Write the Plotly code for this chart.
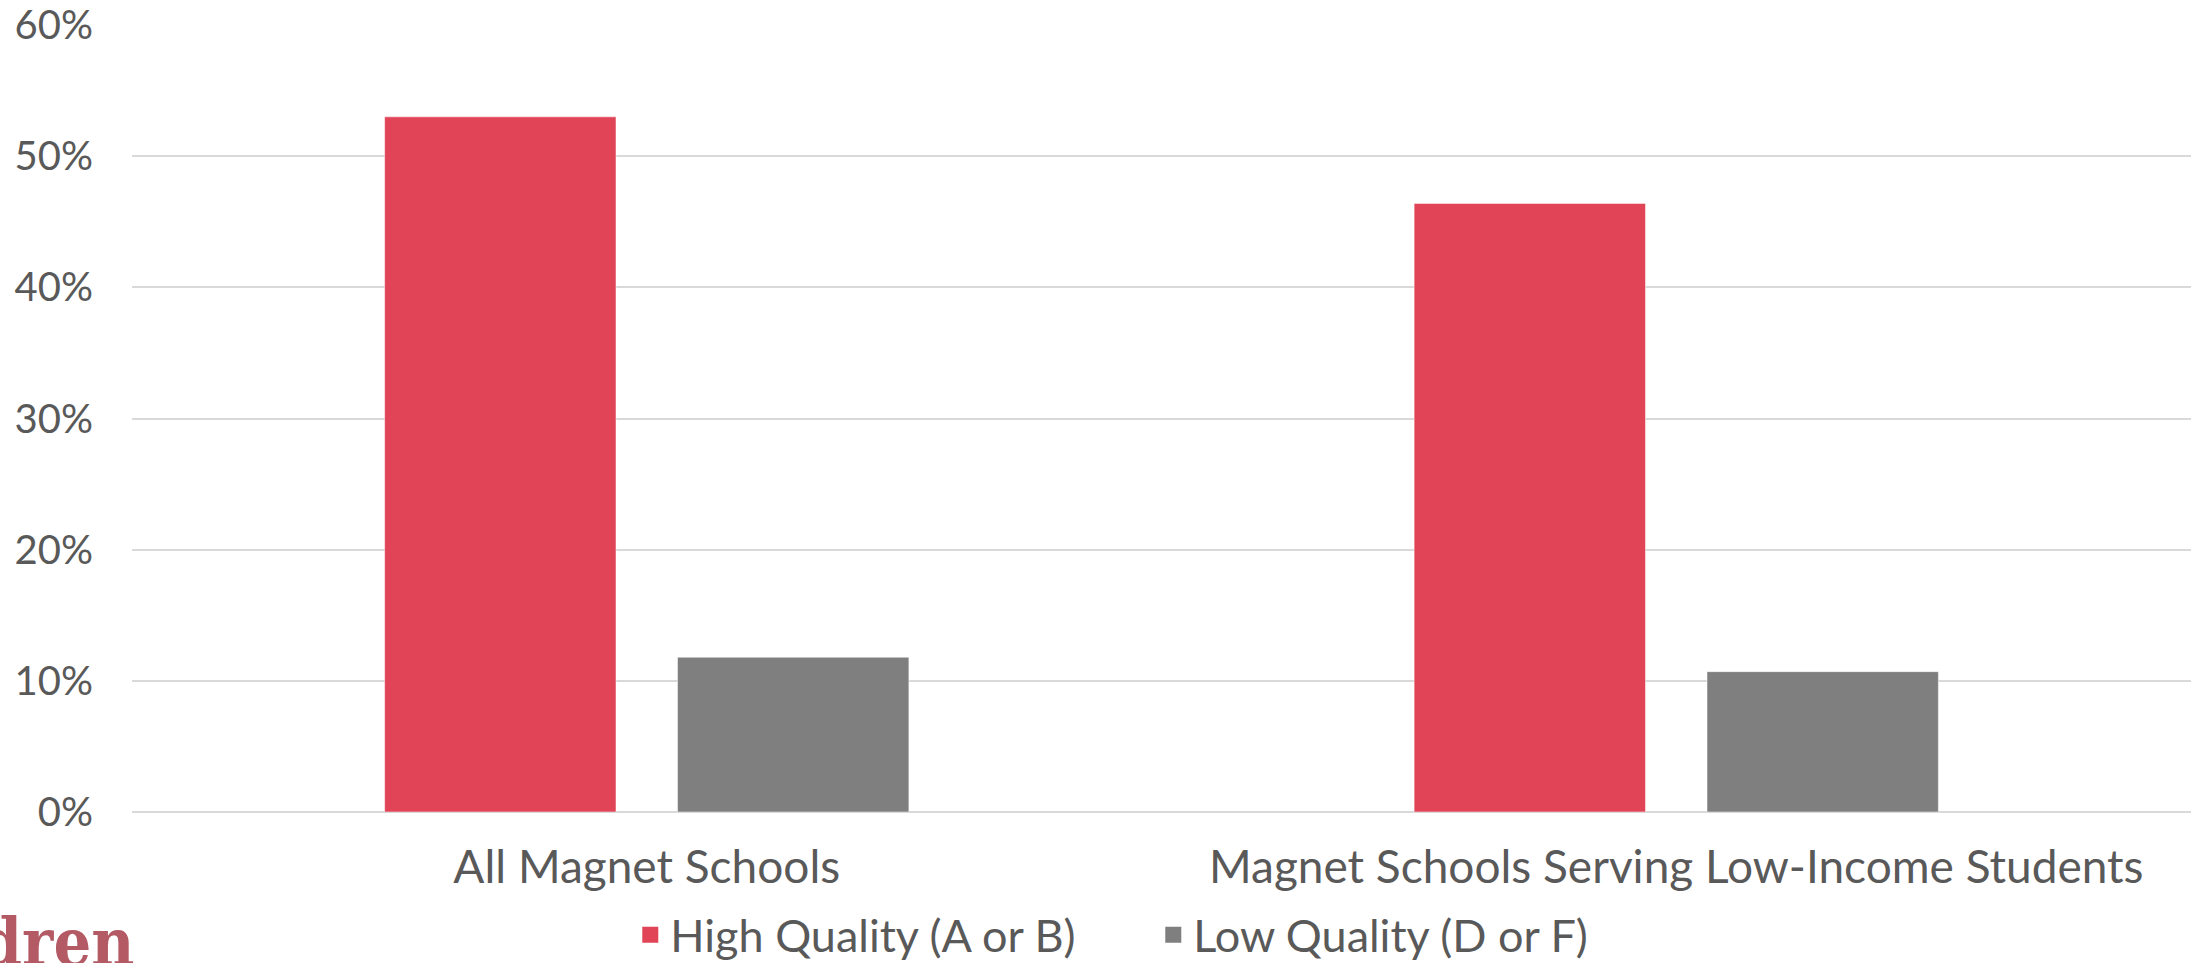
import plotly.graph_objects as go

categories = ["All Magnet Schools", "Magnet Schools Serving Low-Income Students"]
high_quality = [0.53, 0.464]
low_quality = [0.118, 0.107]
series_names = ["High Quality (A or B)", "Low Quality (D or F)"]
series_colors = ["#E04456", "#7F7F7F"]
tick_vals = [0, 0.1, 0.2, 0.3, 0.4, 0.5, 0.6]
tick_text = ["0%", "10%", "20%", "30%", "40%", "50%", "60%"]

FONT = "Lato"
TXT = "#595959"

W, H = 2195, 963
ML, MT, MB, MR = 132, 25, 151, 4
PH = H - MT - MB

fig = go.Figure()
for vals, name, col in zip([high_quality, low_quality], series_names, series_colors):
    fig.add_trace(go.Bar(x=categories, y=vals, name=name, showlegend=False, legendgroup=name,
                         marker=dict(color=col, line=dict(color="rgba(255,255,255,0.5)", width=1))))
# legend entries with larger square swatches
for name, col in zip(series_names, series_colors):
    fig.add_trace(go.Scatter(x=[None], y=[None], mode="markers", name=name, legendgroup=name,
                             marker=dict(symbol="square", size=21, color=col)))

fig.update_layout(
    width=W, height=H,
    margin=dict(l=ML, r=MR, t=MT, b=MB, pad=0),
    paper_bgcolor="white", plot_bgcolor="white",
    barmode="group", bargap=0.431, bargroupgap=0.21,
    font=dict(family=FONT, color=TXT, size=46),
    showlegend=True,
    legend=dict(orientation="h", x=0.242, xanchor="left", xref="paper",
                y=1 - 935 / H, yanchor="middle", yref="container",
                font=dict(family=FONT, size=45, color=TXT), entrywidth=478,
                itemsizing="trace", bgcolor="rgba(0,0,0,0)"),
    xaxis=dict(showgrid=False, showline=False, tickfont=dict(size=46, color=TXT),
               ticklabelstandoff=24, automargin=False),
    yaxis=dict(range=[0, 0.6], tickvals=tick_vals, ticktext=tick_text,
               showgrid=True, gridcolor="#D9D9D9", gridwidth=1.5,
               zeroline=True, zerolinecolor="#D9D9D9", zerolinewidth=1.5,
               tickfont=dict(size=40, color=TXT), ticklabelstandoff=38, automargin=False,
               ticklabeloverflow="allow"),
    annotations=[dict(text="<b>Children</b>", xref="paper", yref="paper",
                      x=(136 - ML) / (W - ML - MR), y=-(983 - (MT + PH)) / PH,
                      xanchor="right", yanchor="bottom", showarrow=False,
                      font=dict(family="DejaVu Serif Condensed", size=66, color="#B35A64"))],
)

fig.write_html("out.html", config={"displayModeBar": False},
               post_script="document.body.style.margin='0';")
